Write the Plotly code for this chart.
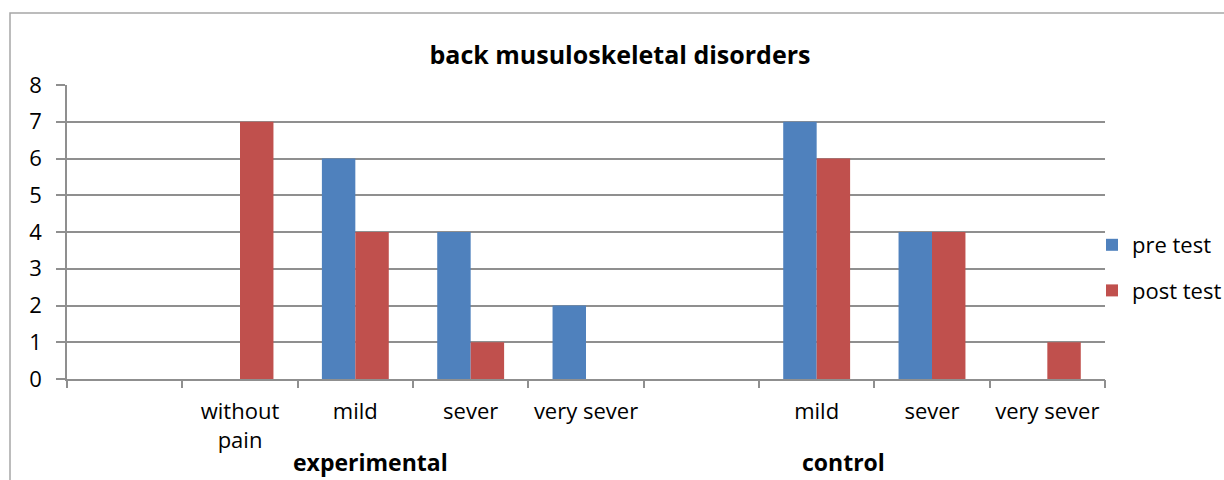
import plotly.graph_objects as go

categories = ["", "without<br>pain", "mild", "sever", "very sever", "", "mild", "sever", "very sever"]
pre_test = [0, 0, 6, 4, 2, 0, 7, 4, 0]
post_test = [0, 7, 4, 1, 0, 0, 6, 4, 1]
groups = ["experimental", "control"]
group_pos = [2.13, 6.23]
y_ticks = [0, 1, 2, 3, 4, 5, 6, 7, 8]

pos = list(range(len(categories)))
FONT = "Open Sans"
GRID = "#8f8f8f"
W, H = 1224, 480
L, R, T, B = 67, 119, 85, 101
PW, PH = W - L - R, H - T - B

fig = go.Figure()
fig.add_bar(x=pos, y=pre_test, name="pre test", legendgroup="a",
            marker=dict(color="#4F81BD", line=dict(width=0)))
fig.add_bar(x=pos, y=post_test, name="post test", legendgroup="b",
            marker=dict(color="#C0504D", line=dict(width=0)))
fig.add_scatter(x=[-0.5, 8.5], y=[0, 0], xaxis="x2", mode="lines", line=dict(width=0),
                showlegend=False, hoverinfo="skip")

boundaries = [i - 0.5 for i in range(len(categories) + 1)]

fig.update_layout(
    width=W, height=H,
    margin=dict(l=L, r=R, t=T, b=B, autoexpand=False),
    paper_bgcolor="white", plot_bgcolor="white",
    barmode="group", bargap=0.42, bargroupgap=0,
    font=dict(family=FONT, size=22, color="black"),
    title=dict(text="<b>back musuloskeletal disorders</b>", x=(620 - L) / PW, xanchor="center",
               xref="paper", y=1 - 55 / H, yanchor="middle", yref="container",
               font=dict(family=FONT, size=25, color="black")),
    xaxis=dict(range=[-0.5, 8.5], tickvals=pos, ticktext=categories, ticks="",
               showgrid=False, showline=True, linecolor=GRID, linewidth=1.5,
               tickfont=dict(family=FONT, size=22), ticklabelstandoff=12, zeroline=False,
               automargin=False),
    xaxis2=dict(range=[-0.5, 8.5], overlaying="x", anchor="y", side="bottom",
                tickvals=boundaries, showticklabels=False, ticks="outside", ticklen=8,
                tickcolor=GRID, tickwidth=1.5, showgrid=False, showline=False, zeroline=False,
                automargin=False),
    yaxis=dict(range=[0, 8], tickvals=y_ticks, ticks="outside", ticklen=9, tickcolor=GRID,
               tickwidth=1.5,
               showgrid=True, gridcolor=GRID, gridwidth=1.5, showline=True, linecolor=GRID,
               linewidth=1.5, zeroline=False, tickfont=dict(family=FONT, size=22),
               ticklabelstandoff=10, automargin=False),
    legend=dict(x=(1092 - L) / PW, xanchor="left", y=(379 - 268) / PH, yanchor="middle",
                traceorder="grouped", tracegroupgap=14,
                font=dict(family=FONT, size=22), itemwidth=30, bgcolor="rgba(0,0,0,0)"),
    showlegend=True,
)

for g, gx in zip(groups, group_pos):
    fig.add_annotation(text="<b>" + g + "</b>", x=gx, xref="x", y=(379 - 462) / PH, yref="paper",
                       showarrow=False, xanchor="center", yanchor="middle",
                       font=dict(family=FONT, size=23, color="black"))

fig.add_shape(type="rect", xref="paper", yref="paper",
              x0=(10 - L) / PW, x1=(1240 - L) / PW,
              y0=(379 - 500) / PH, y1=(379 - 13) / PH,
              line=dict(color="#a6a6a6", width=1.5), fillcolor="rgba(0,0,0,0)", layer="below")

post = ("document.body.style.margin='0';document.body.style.overflow='hidden';"
        "Plotly.relayout('{plot_id}', {width:%d, height:%d});" % (W, H))
fig.write_html("out.html", post_script=post, config={"displayModeBar": False})
